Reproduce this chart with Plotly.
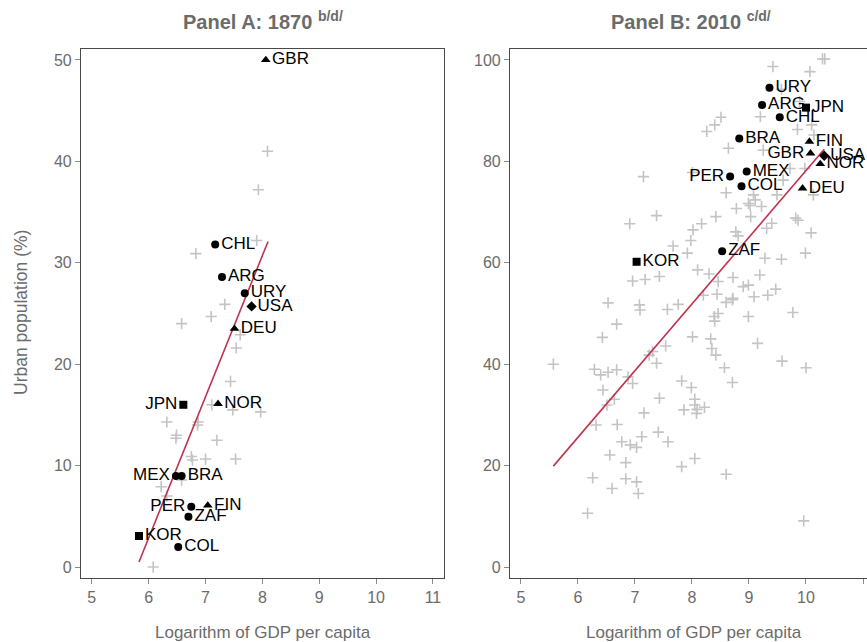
import plotly.graph_objects as go

# --- Highlighted countries -------------------------------------------------
codes = ["ARG", "BRA", "CHL", "COL", "MEX", "PER", "URY", "ZAF",
         "JPN", "KOR", "DEU", "FIN", "GBR", "NOR", "USA"]
region = ["latam", "latam", "latam", "latam", "latam", "latam", "latam", "latam",
          "asia", "asia", "europe", "europe", "europe", "europe", "usa"]

lgdp_1870 = [7.29, 6.58, 7.17, 6.52, 6.48, 6.75, 7.69, 6.70,
             6.61, 5.83, 7.51, 7.04, 8.06, 7.22, 7.81]
urban_1870 = [28.6, 8.97, 31.8, 1.97, 8.97, 5.95, 27.0, 4.96,
              16.0, 3.06, 23.5, 6.08, 50.0, 16.1, 25.7]

lgdp_2010 = [9.23, 8.83, 9.54, 8.87, 8.96, 8.67, 9.36, 8.53,
             10.00, 7.03, 9.94, 10.06, 10.08, 10.25, 10.32]
urban_2010 = [91.1, 84.5, 88.7, 75.1, 78.0, 77.0, 94.5, 62.3,
              90.6, 60.2, 74.7, 83.9, 81.6, 79.5, 81.1]

# --- Rest of the sample ----------------------------------------------------
others_1870_x = [8.09, 7.93, 7.90, 6.83, 7.34, 7.10, 6.58, 7.61, 7.54, 7.44,
                 7.11, 7.48, 7.97, 6.32, 6.87, 6.86, 6.49, 6.48, 7.20, 6.75,
                 6.77, 7.00, 7.53, 6.22, 6.58, 6.32, 6.08]
others_1870_y = [41.0, 37.2, 32.2, 30.9, 25.9, 24.7, 24.0, 22.9, 21.6, 18.3,
                 16.0, 15.5, 15.3, 14.3, 14.3, 14.0, 13.0, 12.7, 12.5, 10.9,
                 10.55, 10.65, 10.65, 7.92, 8.58, 7.0, 0.0]

others_2010_x = [9.42, 10.29, 10.33, 10.07, 9.57, 9.89, 9.20, 8.51, 8.40, 8.26,
                 9.85, 10.10, 10.14, 8.64, 9.25, 7.15, 8.01, 9.72, 9.98, 10.13,
                 9.60, 9.49, 8.60, 9.08, 9.11, 8.99, 9.02, 9.22, 8.78, 7.38,
                 8.42, 9.03, 9.82, 9.86, 6.91, 8.17, 8.02, 9.40, 9.31, 8.77,
                 8.81, 10.09, 7.98, 7.67, 7.92, 9.99, 9.28, 9.57, 8.10, 8.30,
                 9.19, 6.96, 7.18, 7.43, 8.46, 8.72, 8.90, 8.99, 8.20, 8.44,
                 9.09, 9.33, 9.47, 8.60, 8.71, 8.72, 6.53, 7.08, 7.09, 7.57,
                 7.76, 6.68, 8.39, 8.46, 8.40, 8.99, 9.77, 6.43, 8.01, 8.33,
                 7.54, 8.35, 8.42, 9.15, 7.25, 7.31, 7.38, 5.57, 8.57, 9.58,
                 10.00, 6.29, 6.40, 6.53, 6.68, 6.88, 6.96, 7.82, 7.99, 8.71,
                 6.44, 7.43, 8.05, 6.64, 6.51, 8.05, 8.09, 8.22, 8.08, 7.86,
                 7.16, 6.32, 6.69, 7.41, 7.12, 6.77, 6.92, 7.03, 7.58, 6.56,
                 6.84, 7.82, 8.05, 8.60, 6.26, 6.84, 7.03, 6.60, 7.06, 6.17,
                 9.96]
others_2010_y = [98.7, 100.2, 100.2, 97.7, 94.2, 91.8, 88.8, 88.7, 87.2, 85.9,
                 86.3, 87.2, 85.2, 82.6, 82.2, 77.0, 77.8, 78.6, 78.6, 73.4,
                 76.3, 73.4, 73.8, 73.4, 72.4, 71.7, 71.3, 71.1, 70.7, 69.3,
                 69.1, 69.1, 68.8, 68.4, 67.7, 67.7, 66.5, 67.8, 66.8, 66.1,
                 65.3, 65.9, 64.4, 63.3, 61.9, 61.9, 60.9, 60.7, 58.6, 57.8,
                 57.6, 56.4, 56.7, 57.3, 56.3, 57.1, 55.3, 55.6, 53.6, 53.8,
                 53.3, 53.6, 54.8, 52.2, 52.7, 53.0, 52.1, 51.7, 50.7, 50.8,
                 51.8, 47.9, 49.4, 50.0, 48.5, 49.4, 50.2, 45.3, 45.4, 45.0,
                 43.6, 43.1, 41.8, 44.1, 41.8, 42.5, 40.2, 40.0, 39.3, 40.6,
                 39.3, 39.0, 37.9, 38.4, 38.9, 37.5, 36.2, 36.7, 35.4, 36.4,
                 34.9, 33.3, 33.1, 33.1, 31.95, 31.95, 31.1, 31.5, 30.3, 31.0,
                 30.4, 28.0, 28.1, 26.6, 25.7, 24.7, 24.1, 23.6, 24.7, 22.1,
                 20.6, 19.8, 21.4, 18.3, 17.6, 17.4, 16.8, 15.5, 14.5, 10.6,
                 9.1]

# --- Fitted lines (endpoints) ---------------------------------------------
fit_1870_x = [5.83, 8.10]
fit_1870_y = [0.5, 32.1]
fit_2010_x = [5.57, 10.32]
fit_2010_y = [19.9, 82.4]

# --- Styling ---------------------------------------------------------------
W, H = 867, 642
FONT = "Liberation Sans, Arial, Helvetica, sans-serif"
GREY_TXT = "#6b6b6b"
CROSS = "#c4c4c4"
FIT = "#c0334d"
AXIS = "#4a4a4a"

symbols = {"latam": "circle", "asia": "square", "europe": "triangle-up", "usa": "diamond"}
sizes = {"latam": 8, "asia": 8, "europe": 8.5, "usa": 8}
left_labels = {"x": {"JPN", "MEX", "PER"}, "x2": {"PER", "GBR"}}

fig = go.Figure()


def add_panel(xa, ya, ox, oy, fx, fy, lx, ly):
    fig.add_trace(go.Scatter(
        x=ox, y=oy, mode="markers", xaxis=xa, yaxis=ya, hoverinfo="skip",
        marker=dict(symbol="cross-thin", size=8, line=dict(color=CROSS, width=1.6)),
        showlegend=False))
    fig.add_trace(go.Scatter(
        x=fx, y=fy, mode="lines", xaxis=xa, yaxis=ya,
        line=dict(color=FIT, width=1.6), showlegend=False))
    fig.add_trace(go.Scatter(
        x=lx, y=ly, mode="markers+text", xaxis=xa, yaxis=ya,
        text=codes,
        textposition=["middle left" if c in left_labels[xa] else "middle right" for c in codes],
        textfont=dict(family=FONT, size=17, color="black"),
        marker=dict(symbol=[symbols[r] for r in region],
                    size=[sizes[r] for r in region], color="#000000", opacity=1,
                    line=dict(width=0)),
        opacity=1, cliponaxis=False, showlegend=False))


add_panel("x", "y", others_1870_x, others_1870_y, fit_1870_x, fit_1870_y,
          lgdp_1870, urban_1870)
add_panel("x2", "y2", others_2010_x, others_2010_y, fit_2010_x, fit_2010_y,
          lgdp_2010, urban_2010)

# Plot-area positions (paper fractions)
ax_l, ax_r = 81 / W, 444.3 / W
bx_l, bx_r = 510 / W, 1.0
y_b, y_t = 1 - 578 / H, 1 - 49 / H

tick_common = dict(ticks="outside", ticklen=5, tickcolor="#8a8a8a", tickwidth=1,
                   tickfont=dict(family=FONT, size=16, color=GREY_TXT),
                   showgrid=False, zeroline=False, showline=True,
                   linecolor=AXIS, linewidth=1.2)

fig.update_layout(
    width=W, height=H,
    margin=dict(l=0, r=0, t=0, b=0),
    paper_bgcolor="white", plot_bgcolor="white",
    font=dict(family=FONT),
    xaxis=dict(domain=[ax_l, ax_r], range=[4.81, 11.2], tickvals=[5, 6, 7, 8, 9, 10, 11],
               anchor="y", mirror=True, **tick_common),
    yaxis=dict(domain=[y_b, y_t], range=[-1.08, 51.08], tickvals=[0, 10, 20, 30, 40, 50],
               anchor="x", mirror=True, **tick_common),
    xaxis2=dict(domain=[bx_l, bx_r], range=[4.81, 11.07], tickvals=[5, 6, 7, 8, 9, 10, 11],
                anchor="y2", mirror=True, **tick_common),
    yaxis2=dict(domain=[y_b, y_t], range=[-2.16, 102.16], tickvals=[0, 20, 40, 60, 80, 100],
                anchor="x2", mirror=False, **tick_common),
)

title_font = dict(family=FONT, size=20, color=GREY_TXT)
axis_font = dict(family=FONT, size=17, color=GREY_TXT)
fig.add_annotation(x=262.5 / W, y=1 - 20 / H, xref="paper", yref="paper",
                   text="<b>Panel A: 1870 <sup>b/d/</sup></b>", showarrow=False,
                   font=title_font, xanchor="center", yanchor="middle")
fig.add_annotation(x=691 / W, y=1 - 20 / H, xref="paper", yref="paper",
                   text="<b>Panel B: 2010 <sup>c/d/</sup></b>", showarrow=False,
                   font=title_font, xanchor="center", yanchor="middle")
fig.add_annotation(x=263 / W, y=1 - 632 / H, xref="paper", yref="paper",
                   text="Logarithm of GDP per capita", showarrow=False,
                   font=axis_font, xanchor="center", yanchor="middle")
fig.add_annotation(x=694 / W, y=1 - 632 / H, xref="paper", yref="paper",
                   text="Logarithm of GDP per capita", showarrow=False,
                   font=axis_font, xanchor="center", yanchor="middle")
fig.add_annotation(x=21 / W, y=1 - 313 / H, xref="paper", yref="paper",
                   text="Urban population (%)", showarrow=False, textangle=-90,
                   font=dict(family=FONT, size=17.5, color=GREY_TXT),
                   xanchor="center", yanchor="middle")

fig.write_html("out.html")
